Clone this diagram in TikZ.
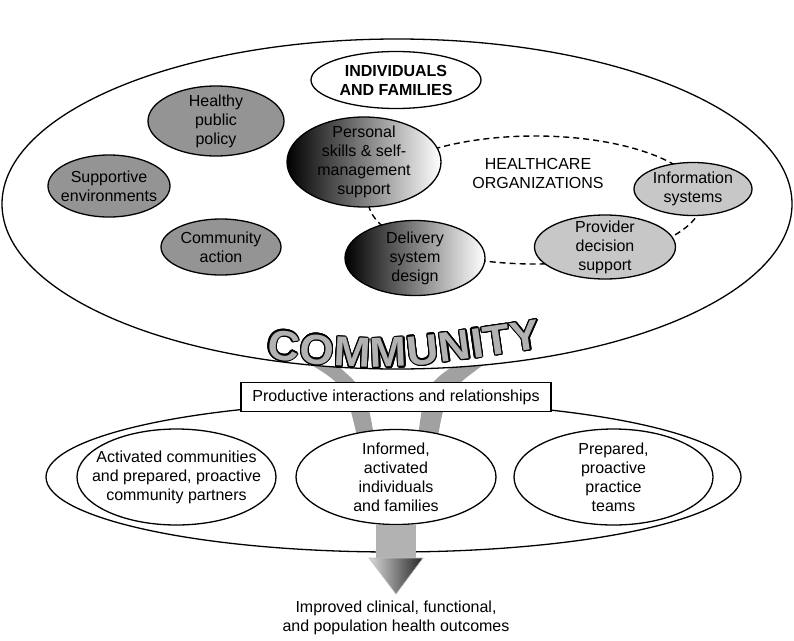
\documentclass[tikz,border=0pt]{standalone}
\usepackage{fontspec}
\setmainfont{Liberation Sans}
\usepackage{contour}
\contourlength{1.2pt}
\usetikzlibrary{shapes.geometric,decorations.text}
\newfontfamily\commfont{Liberation Sans}[FakeStretch=1.05]
\newcommand\commchar[1]{\contour{black}{#1}}
\begin{document}
\begin{tikzpicture}[x=1pt,y=-1pt,
  txt/.style={font=\fontsize{16}{19}\selectfont, align=center, inner sep=0pt},
  oval/.style={ellipse, draw=black, line width=1.3pt, inner sep=0pt},
  darkoval/.style={oval, fill=black!42},
  lightoval/.style={oval, fill=black!22},
  gradoval/.style={oval, left color=black, right color=white},
  whiteoval/.style={oval, fill=white},
  ring/.style={draw=black, dash pattern=on 6pt off 4pt, line width=1.4pt},
  band/.style={fill=black!37}]
\useasboundingbox (0,0) rectangle (794,640);
% gray bands flowing into the interaction
\fill[band] (303,360) .. controls (345,385) .. (357,436) -- (374,436) .. controls (366,390) .. (331,360) -- cycle;
\fill[band] (462,360) .. controls (425,385) .. (418,436) -- (438,436) .. controls (446,392) .. (490,360) -- cycle;
% community ellipse
\node[oval, fill=white, minimum width=790, minimum height=330] (community) at (397,204) {};
% healthcare organizations ring
\draw[ring] (535,200) ellipse [x radius=167, y radius=64];
\node[whiteoval, minimum width=170, minimum height=57,
  label={[txt, font=\fontsize{16}{19}\selectfont\bfseries]center:{INDIVIDUALS\\AND FAMILIES}}] (indiv) at (396,80) {};
\node[darkoval, minimum width=136, minimum height=70,
  label={[txt]center:{Healthy\\public\\policy}}] (policy) at (216,121) {};
\node[darkoval, minimum width=122, minimum height=62,
  label={[txt]center:{Supportive\\environments}}] (env) at (109,186) {};
\node[darkoval, minimum width=120, minimum height=56,
  label={[txt]center:{Community\\action}}] (action) at (221,247) {};
\node[gradoval, minimum width=154, minimum height=90,
  label={[txt]center:{Personal\\skills \& self-\\management\\support}}] (skills) at (364,162) {};
\node[gradoval, minimum width=140, minimum height=75,
  label={[txt]center:{Delivery\\system\\design}}] (delivery) at (415,258) {};
\node[txt] (hco) at (538,173) {HEALTHCARE\\ORGANIZATIONS};
\node[lightoval, minimum width=118, minimum height=53,
  label={[txt]center:{Information\\systems}}] (info) at (693,189) {};
\node[lightoval, minimum width=141, minimum height=64,
  label={[txt]center:{Provider\\decision\\support}}] (provider) at (605,247) {};
% COMMUNITY word
\path[decorate, decoration={text effects along path, text={COMMUNITY},
  text effects/.cd, text along path, fit text to path, character command=\commchar,
  characters={text=black!30, font=\commfont\bfseries\fontsize{42}{42}\selectfont}}]
  (266,358) .. controls (380,372) .. (542,348);
% lower system
\draw[line width=1.3pt] (393.5,477) ellipse [x radius=347.5, y radius=75];
\node[draw=black, line width=1.3pt, fill=white, txt, minimum width=310, minimum height=29] (pir) at (396,397) {Productive interactions and relationships};
\node[whiteoval, minimum width=199, minimum height=96,
  label={[txt]center:{Activated communities\\and prepared, proactive\\community partners}}] (activated) at (176.5,477) {};
\node[whiteoval, minimum width=200, minimum height=95,
  label={[txt]center:{Informed,\\activated\\individuals\\and families}}] (informed) at (396,477) {};
\node[whiteoval, minimum width=199, minimum height=96,
  label={[txt]center:{Prepared,\\proactive\\practice\\teams}}] (prepared) at (613.5,477) {};
% outcome arrow
\fill[black!30] ([xshift=-20pt]informed.south) rectangle ([xshift=20pt,yshift=-35pt]informed.south);
\coordinate (headL) at (369,558);
\coordinate (headR) at (423,558);
\coordinate (tip) at (396,594);
\shade[left color=black!15, right color=black!85, draw=black!25, line width=0.6pt] (headL) -- (headR) -- (tip) -- cycle;
\node[txt] (outcome) at (396,618) {Improved clinical, functional,\\and population health outcomes};
\end{tikzpicture}
\end{document}
